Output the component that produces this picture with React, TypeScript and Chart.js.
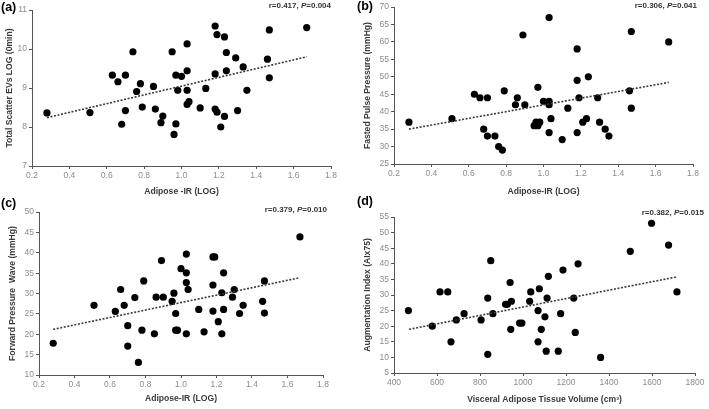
import React, { useEffect, useRef } from "react";
import { Chart, registerables } from "chart.js";
Chart.register(...registerables);

// ---- Data (a) ----
const aX = [0.28, 0.51, 0.63, 0.66, 0.68, 0.70, 0.70, 0.74, 0.76, 0.78, 0.79, 0.85, 0.86, 0.89, 0.90, 0.95, 0.96, 0.97, 0.97, 0.98, 1.00, 1.03, 1.03, 1.03, 1.03, 1.04, 1.10, 1.13, 1.18, 1.18, 1.18, 1.19, 1.19, 1.21, 1.23, 1.23, 1.24, 1.24, 1.29, 1.30, 1.33, 1.35, 1.46, 1.47, 1.47, 1.67];
const aY = [8.36, 8.37, 9.33, 9.16, 8.07, 9.33, 8.42, 9.93, 8.91, 9.11, 8.51, 9.04, 8.46, 8.11, 8.28, 9.93, 7.81, 9.33, 8.08, 8.94, 9.30, 10.13, 9.44, 8.94, 8.58, 8.65, 8.49, 8.99, 10.59, 9.36, 8.46, 10.37, 8.38, 8.00, 10.31, 8.27, 9.91, 9.44, 9.77, 8.42, 9.54, 8.94, 9.74, 10.49, 9.26, 10.55];
const aTrendX = [0.28, 1.67];
const aTrendY = [8.24, 9.80];

// ---- Data (b) ----
const bX = [0.28, 0.51, 0.63, 0.66, 0.68, 0.70, 0.70, 0.74, 0.76, 0.78, 0.79, 0.85, 0.86, 0.89, 0.90, 0.95, 0.96, 0.97, 0.97, 0.98, 1.00, 1.03, 1.03, 1.03, 1.03, 1.04, 1.10, 1.13, 1.18, 1.18, 1.18, 1.19, 1.21, 1.23, 1.24, 1.29, 1.30, 1.33, 1.35, 1.46, 1.47, 1.47, 1.67];
const bY = [37, 38, 45, 44, 35, 33, 44, 33, 30, 29, 46, 42, 44, 62, 42, 36, 37, 47, 36, 37, 43, 67, 43, 42, 34, 38, 32, 41, 58, 49, 34, 44, 37, 38, 50, 44, 37, 35, 33, 46, 63, 41, 60];
const bTrendX = [0.28, 1.67];
const bTrendY = [35.0, 48.4];

// ---- Data (c) ----
const cX = [0.28, 0.51, 0.63, 0.66, 0.68, 0.70, 0.70, 0.74, 0.76, 0.78, 0.79, 0.85, 0.86, 0.89, 0.90, 0.95, 0.96, 0.97, 0.97, 0.98, 1.00, 1.03, 1.03, 1.03, 1.03, 1.04, 1.10, 1.13, 1.18, 1.19, 1.18, 1.18, 1.21, 1.23, 1.23, 1.24, 1.24, 1.29, 1.30, 1.33, 1.35, 1.46, 1.47, 1.47, 1.67];
const cY = [17.8, 27.1, 25.6, 31.0, 27.1, 22.1, 17.1, 29.0, 13.1, 21.0, 33.1, 20.1, 29.1, 38.1, 29.1, 28.1, 30.1, 25.1, 21.0, 21.0, 36.1, 39.7, 35.1, 32.7, 20.1, 31.0, 26.1, 20.6, 39.0, 39.0, 32.1, 25.7, 23.1, 30.2, 20.1, 35.1, 26.1, 29.1, 31.0, 25.1, 27.1, 28.1, 33.1, 25.2, 43.9];
const cTrendX = [0.28, 1.67];
const cTrendY = [21.2, 33.9];

// ---- Data (d) ----
const dX = [467, 578, 614, 650, 665, 690, 726, 805, 836, 836, 850, 860, 919, 927, 940, 946, 943, 984, 995, 1036, 1031, 1070, 1070, 1076, 1085, 1102, 1108, 1112, 1118, 1164, 1175, 1186, 1243, 1236, 1256, 1361, 1499, 1598, 1677, 1716];
const dY = [25, 20, 31, 31, 15, 22, 24, 22, 29, 11, 41, 24, 27, 27, 34, 28, 19, 21, 21, 31, 28, 25, 15, 32, 19, 23, 12, 29, 36, 12, 24, 38, 18, 29, 40, 10, 44, 53, 46, 31];
const dTrendX = [470, 1715];
const dTrendY = [19.0, 35.8];

const TITLE_FONT = "'Liberation Sans', Arial, sans-serif";
const TICK_FONT = "'Liberation Sans', Arial, sans-serif";

type PanelCfg = {
  label: string;
  r: string;
  p: string;
  left: number; top: number; w: number; h: number;
  area: { l: number; r: number; t: number; b: number };
  yTitleX: number; xTitleY: number;
  labelPos: { x: number; y: number };
  annRight: number; annY: number;
  xs: number[]; ys: number[]; tx: number[]; ty: number[];
  xMin: number; xMax: number; xStep: number; xDec: number;
  yMin: number; yMax: number; yStep: number;
  xTitle: string; yTitle: string;
};

const panels: PanelCfg[] = [
  {
    label: "(a)", r: "r=0.417, ", p: "=0.004",
    left: 0, top: 0, w: 354, h: 205,
    area: { l: 32, r: 331, t: 10, b: 166 }, yTitleX: 10, xTitleY: 192,
    labelPos: { x: 1, y: 7 }, annRight: 331, annY: 6,
    xs: aX, ys: aY, tx: aTrendX, ty: aTrendY,
    xMin: 0.2, xMax: 1.8, xStep: 0.2, xDec: 1, yMin: 7, yMax: 11, yStep: 1,
    xTitle: "Adipose -IR (LOG)", yTitle: "Total Scatter EVs LOG (0min)",
  },
  {
    label: "(b)", r: "r=0.306, ", p: "=0.041",
    left: 355, top: 0, w: 354, h: 205,
    area: { l: 39, r: 338, t: 7, b: 164 }, yTitleX: 13, xTitleY: 192,
    labelPos: { x: 357, y: 6 }, annRight: 697, annY: 6,
    xs: bX, ys: bY, tx: bTrendX, ty: bTrendY,
    xMin: 0.2, xMax: 1.8, xStep: 0.2, xDec: 1, yMin: 25, yMax: 70, yStep: 5,
    xTitle: "Adipose-IR (LOG)", yTitle: "Fasted Pulse Pressure (mmHg)",
  },
  {
    label: "(c)", r: "r=0.379, ", p: "=0.010",
    left: 0, top: 205, w: 354, h: 204,
    area: { l: 39, r: 323, t: 5, b: 170 }, yTitleX: 13, xTitleY: 194,
    labelPos: { x: 1, y: 203 }, annRight: 327, annY: 210,
    xs: cX, ys: cY, tx: cTrendX, ty: cTrendY,
    xMin: 0.2, xMax: 1.8, xStep: 0.2, xDec: 1, yMin: 10, yMax: 50, yStep: 5,
    xTitle: "Adipose-IR (LOG)", yTitle: "Forward Pressure  Wave (mmHg)",
  },
  {
    label: "(d)", r: "r=0.382, ", p: "=0.015",
    left: 355, top: 205, w: 354, h: 204,
    area: { l: 39, r: 340, t: 12, b: 168 }, yTitleX: 12.5, xTitleY: 195,
    labelPos: { x: 357, y: 201 }, annRight: 704, annY: 213,
    xs: dX, ys: dY, tx: dTrendX, ty: dTrendY,
    xMin: 400, xMax: 1800, xStep: 200, xDec: 0, yMin: 5, yMax: 55, yStep: 5,
    xTitle: "Visceral Adipose Tissue Volume (cm\u00B3)", yTitle: "Augmentation Index (AIx75)",
  },
];

function Panel({ cfg }: { cfg: PanelCfg }) {
  const ref = useRef<HTMLCanvasElement | null>(null);
  useEffect(() => {
    if (!ref.current) return;
    const titleSize = 8.6;
    const half = (titleSize * 1.2) / 2;
    const pts = cfg.xs.map((x, i) => ({ x, y: cfg.ys[i] }));
    const trend = cfg.tx.map((x, i) => ({ x, y: cfg.ty[i] }));
    const chart = new Chart(ref.current, {
      type: "scatter",
      data: {
        datasets: [
          {
            data: trend,
            showLine: true,
            borderColor: "#3a3a3a",
            borderWidth: 1.6,
            borderDash: [2, 1.6],
            pointRadius: 0,
            fill: false,
          } as any,
          {
            data: pts,
            backgroundColor: "#000000",
            borderWidth: 0,
            pointRadius: 3.6,
          },
        ],
      },
      options: {
        animation: false,
        responsive: false,
        events: [],
        layout: {
          padding: { left: 0, top: cfg.area.t, right: cfg.w - cfg.area.r, bottom: 0 },
        },
        plugins: { legend: { display: false }, tooltip: { enabled: false } },
        scales: {
          x: {
            type: "linear",
            min: cfg.xMin, max: cfg.xMax,
            afterFit: (s: any) => { s.height = cfg.h - cfg.area.b; },
            ticks: {
              stepSize: cfg.xStep,
              color: "#8c8c8c",
              font: { family: TICK_FONT, size: 8.5 },
              padding: 2,
              maxRotation: 0,
              callback: (v: any) => Number(v).toFixed(cfg.xDec),
            },
            grid: { display: true, drawOnChartArea: false, drawTicks: true, tickLength: 3, color: "#555555", lineWidth: 1 },
            border: { display: true, color: "#555555", width: 1 },
            title: {
              display: true, text: cfg.xTitle, color: "#3a3a3a",
              font: { family: TITLE_FONT, size: titleSize, weight: "bold" },
              padding: { top: 0, bottom: cfg.h - cfg.xTitleY - half },
            },
          },
          y: {
            type: "linear",
            min: cfg.yMin, max: cfg.yMax,
            afterFit: (s: any) => { s.width = cfg.area.l; },
            ticks: {
              stepSize: cfg.yStep,
              color: "#8c8c8c",
              font: { family: TICK_FONT, size: 8.5 },
              padding: 2,
            },
            grid: { display: true, drawOnChartArea: false, drawTicks: true, tickLength: 3, color: "#555555", lineWidth: 1 },
            border: { display: true, color: "#555555", width: 1 },
            title: {
              display: true, text: cfg.yTitle, color: "#3a3a3a",
              font: { family: TITLE_FONT, size: titleSize, weight: "bold" },
              padding: { top: cfg.yTitleX - half, bottom: 0 },
            },
          },
        },
      },
    });
    return () => chart.destroy();
  }, [cfg]);
  return (
    <div style={{ position: "absolute", left: cfg.left, top: cfg.top, width: cfg.w, height: cfg.h }}>
      <canvas ref={ref} width={cfg.w} height={cfg.h} style={{ width: cfg.w, height: cfg.h, display: "block" }} />
    </div>
  );
}

export default function App() {
  return (
    <div style={{ position: "absolute", left: 0, top: 0, width: 709, height: 409, background: "#fff", overflow: "hidden" }}>
      {panels.map((p) => (
        <Panel key={p.label} cfg={p} />
      ))}
      {panels.map((p) => (
        <div
          key={p.label + "l"}
          style={{
            position: "absolute", left: p.labelPos.x, top: p.labelPos.y - 8, height: 16, lineHeight: "16px",
            fontFamily: "'Liberation Sans', Arial, sans-serif", fontWeight: "bold", fontSize: 12.5, color: "#000",
          }}
        >
          {p.label}
        </div>
      ))}
      {panels.map((p) => (
        <div
          key={p.label + "r"}
          style={{
            position: "absolute", right: 709 - p.annRight, top: p.annY - 6, height: 12, lineHeight: "12px",
            fontFamily: "'Liberation Sans', Arial, sans-serif", fontWeight: "bold", fontSize: 8, color: "#333",
            whiteSpace: "nowrap",
          }}
        >
          {p.r}<i>P</i>{p.p}
        </div>
      ))}
    </div>
  );
}
